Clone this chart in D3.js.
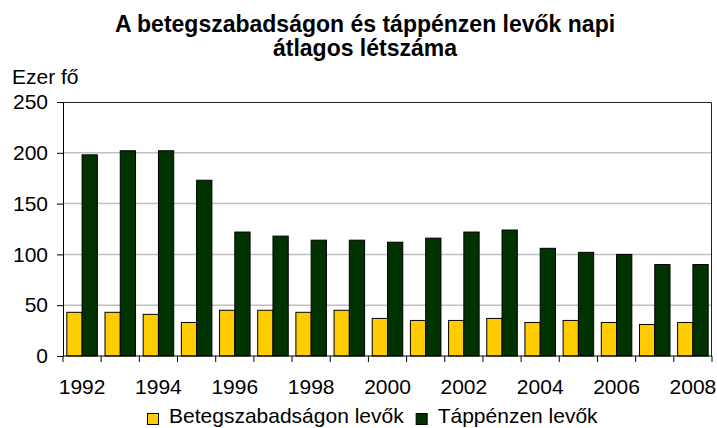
<!DOCTYPE html>
<html>
<head>
<meta charset="utf-8">
<script src="https://cdn.jsdelivr.net/npm/d3@7"></script>
<style>
  body { margin: 0; background: #fff; }
  text { font-family: "Liberation Sans", Arial, sans-serif; fill: #000; }
</style>
</head>
<body>
<div id="main"></div>
<script>
// chart data
const years = ['1992', '1993', '1994', '1995', '1996', '1997', '1998', '1999', '2000',
  '2001', '2002', '2003', '2004', '2005', '2006', '2007', '2008'];
const betegszabadsag = [43, 43, 41, 33, 45, 45, 43, 45, 37, 35, 35, 37, 33, 35, 33, 31, 33];
const tappenz = [198, 202, 202, 173, 122, 118, 114, 114, 112, 116, 122, 124, 106, 102, 100, 90, 90];
const seriesNames = ['Betegszabadságon levők', 'Táppénzen levők'];
const yTicks = [0, 50, 100, 150, 200, 250];
const titleLines = ['A betegszabadságon és táppénzen levők napi', 'átlagos létszáma'];

const width = 717;
const height = 428;
const margin = { t: 102, r: 5, b: 72, l: 63 };
const colors = ['#ffcc00', '#003300'];
const fontSize = 21;

const svg = d3.select('#main')
  .append('svg')
  .attr('width', width)
  .attr('height', height);

const plotW = width - margin.l - margin.r;
const plotH = height - margin.t - margin.b;

const x = d3.scaleBand().domain(years).range([0, plotW]);
const inner = d3.scaleBand().domain([0, 1]).range([0, x.bandwidth()]).paddingOuter(0.25);
const y = d3.scaleLinear().domain([0, 250]).range([plotH, 0]);

const plot = svg.append('g')
  .attr('transform', `translate(${margin.l},${margin.t})`);

// grid lines
plot.selectAll('.grid')
  .data(yTicks.filter(d => d > 0 && d < 250))
  .enter()
  .append('line')
  .attr('x1', 0)
  .attr('x2', plotW)
  .attr('y1', d => y(d))
  .attr('y2', d => y(d))
  .attr('stroke', '#c0c0c0')
  .attr('stroke-width', 1.5);

// plot border (top, right)
plot.append('path')
  .attr('d', `M0,0.5H${plotW - 0.5}V${plotH}`)
  .attr('fill', 'none')
  .attr('stroke', '#222')
  .attr('stroke-width', 1);

// bars
const table = years.map((yr, i) => ({ year: yr, vals: [betegszabadsag[i], tappenz[i]] }));
const groups = plot.selectAll('.yr')
  .data(table)
  .enter()
  .append('g')
  .attr('transform', d => `translate(${x(d.year)},0)`);

groups.selectAll('rect')
  .data(d => d.vals)
  .enter()
  .append('rect')
  .attr('x', (d, i) => inner(i))
  .attr('y', d => y(d))
  .attr('width', inner.bandwidth())
  .attr('height', d => plotH - y(d))
  .attr('fill', (d, i) => colors[i])
  .attr('stroke', '#000')
  .attr('stroke-width', 1);

// y axis
const yAxis = d3.axisLeft(y).tickValues(yTicks).tickSize(6).tickPadding(9);
const yG = plot.append('g').call(yAxis);
yG.select('.domain').attr('stroke', '#000');
yG.selectAll('.tick line').attr('stroke', '#000');
yG.selectAll('text')
  .attr('font-size', fontSize);

// x axis: ticks at band boundaries, labels every other year
const xG = plot.append('g').attr('transform', `translate(0,${plotH})`);
xG.append('line')
  .attr('x1', 0).attr('x2', plotW)
  .attr('stroke', '#000');
const bounds = years.map(d => x(d)).concat([plotW]);
xG.selectAll('.xt')
  .data(bounds)
  .enter()
  .append('line')
  .attr('x1', d => d).attr('x2', d => d)
  .attr('y1', 0).attr('y2', 6)
  .attr('stroke', '#000');
xG.selectAll('.xl')
  .data(years.filter((d, i) => i % 2 === 0))
  .enter()
  .append('text')
  .attr('x', d => x(d) + x.bandwidth() / 2)
  .attr('y', 38)
  .attr('text-anchor', 'middle')
  .attr('font-size', fontSize)
  .text(d => d);

// axis unit label
svg.append('text')
  .attr('x', 12)
  .attr('y', 84)
  .attr('font-size', fontSize)
  .text('Ezer fő');

// title
svg.selectAll('.title')
  .data(titleLines)
  .enter()
  .append('text')
  .attr('x', 365)
  .attr('y', (d, i) => 32 + i * 24)
  .attr('text-anchor', 'middle')
  .attr('font-size', 23)
  .attr('font-weight', 'bold')
  .text(d => d);

// legend
const legend = svg.append('g').attr('transform', 'translate(147,423)');
let lx = 0;
seriesNames.forEach((name, i) => {
  const item = legend.append('g').attr('transform', `translate(${lx},0)`);
  item.append('rect')
    .attr('x', 0.5).attr('y', -9.5)
    .attr('width', 11).attr('height', 11)
    .attr('fill', colors[i])
    .attr('stroke', '#000');
  const t = item.append('text')
    .attr('x', 22)
    .attr('y', 0)
    .attr('font-size', fontSize)
    .text(name);
  lx += 22 + t.node().getComputedTextLength() + 12;
});
</script>
</body>
</html>
